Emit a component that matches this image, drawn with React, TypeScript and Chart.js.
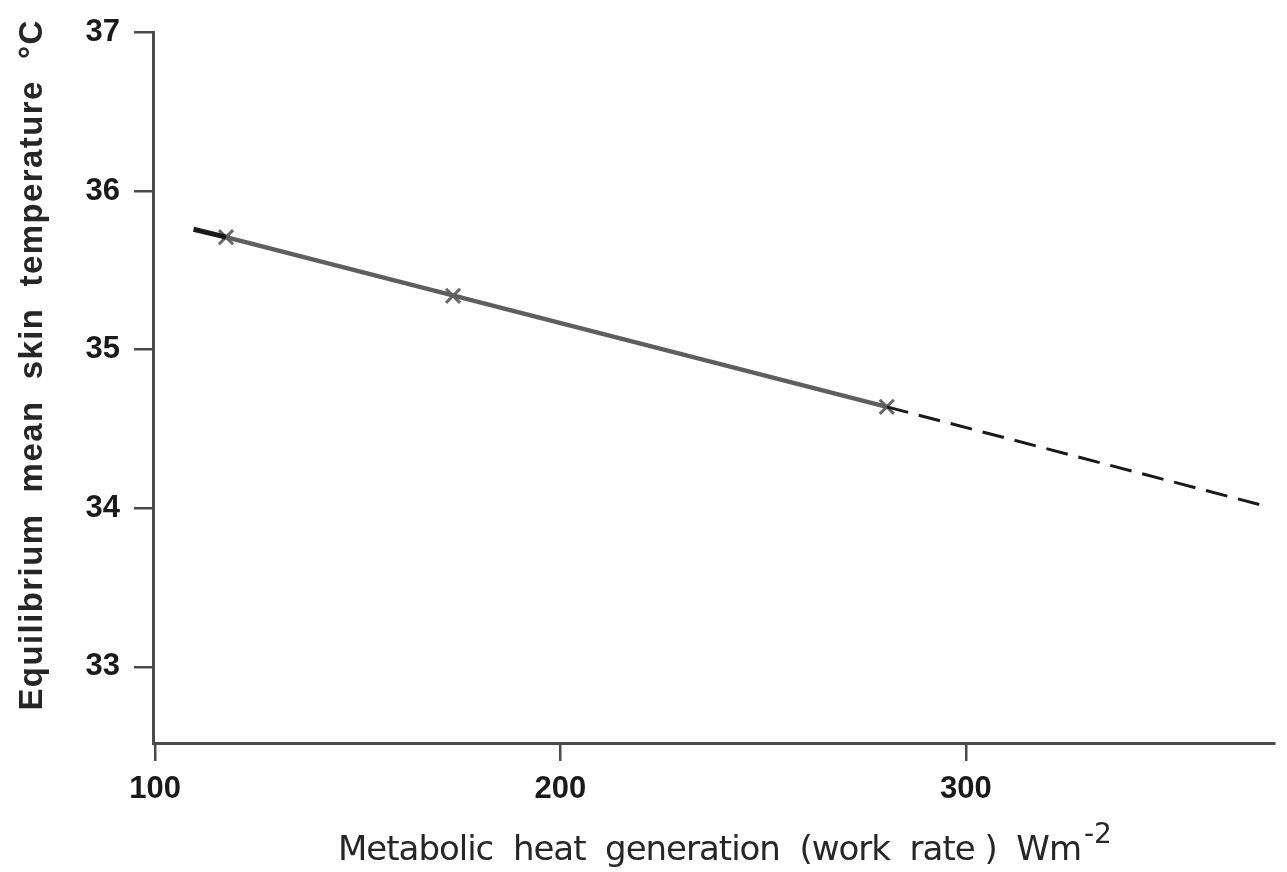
import React, { useEffect, useRef } from "react";
import { Chart, registerables } from "chart.js";

Chart.register(...registerables);

// ---- data ----
const measuredX = [117.5, 173.5, 280.5];
const measuredY = [35.71, 35.34, 34.64];
const stubX = [109.5, 117.5];
const stubY = [35.76, 35.71];
const fitX = [117.5, 280.5];
const fitY = [35.71, 34.64];
const extX = [280.5, 374.5];
const extY = [34.64, 34.01];
const xTicks = [100, 200, 300];
const yTicks = [33, 34, 35, 36, 37];
const xTitle = "Metabolic  heat  generation  (work  rate )  Wm";
const xTitleSup = "-2";
const yTitle = "Equilibrium  mean  skin  temperature  \u00B0C";

const toPts = (xs: number[], ys: number[]) => xs.map((x, i) => ({ x, y: ys[i] }));

const drawFitted = (
  ctx: CanvasRenderingContext2D,
  text: string,
  x: number,
  y: number,
  target: number,
  align: "left" | "center"
) => {
  (ctx as any).letterSpacing = "0px";
  const w = ctx.measureText(text).width;
  const ls = (target - w) / Math.max(text.length - 1, 1);
  (ctx as any).letterSpacing = `${ls}px`;
  ctx.textAlign = "left";
  const startX = align === "center" ? x - target / 2 : x;
  ctx.fillText(text, startX, y);
  (ctx as any).letterSpacing = "0px";
};

const titlePlugin = {
  id: "axisTitles",
  afterDraw(chart: any) {
    const { ctx, chartArea } = chart;
    ctx.save();
    ctx.fillStyle = "#262626";
    ctx.textBaseline = "alphabetic";
    // x axis title
    ctx.font = '34px "DejaVu Sans"';
    const xLeft = chartArea.left + 185;
    const base = chartArea.bottom + 117;
    drawFitted(ctx, xTitle, xLeft, base, 744, "left");
    ctx.font = '28px "DejaVu Sans"';
    ctx.textAlign = "left";
    ctx.fillText(xTitleSup, xLeft + 746, base - 17);
    // y axis title
    ctx.translate(chartArea.left - 111, chartArea.top + 333);
    ctx.rotate(-Math.PI / 2);
    ctx.font = 'bold 33px "Liberation Sans"';
    drawFitted(ctx, yTitle, 0, 0, 690, "center");
    ctx.restore();
  },
};

export default function App() {
  const ref = useRef<HTMLCanvasElement | null>(null);

  useEffect(() => {
    if (!ref.current) return;
    const axisColor = "#4a4a4a";
    const tickFont = { family: '"Liberation Sans"', size: 31, weight: "bold" as const };
    const chart = new Chart(ref.current, {
      type: "scatter",
      data: {
        datasets: [
          {
            label: "stub",
            data: toPts(stubX, stubY),
            showLine: true,
            borderColor: "#1a1a1a",
            borderWidth: 5,
            pointRadius: 0,
          },
          {
            label: "fit",
            data: toPts(fitX, fitY),
            showLine: true,
            borderColor: "#5e5e5e",
            borderWidth: 4.5,
            pointRadius: 0,
          },
          {
            label: "extrapolated",
            data: toPts(extX, extY),
            showLine: true,
            borderColor: "#1a1a1a",
            borderWidth: 3,
            borderDash: [22, 11],
            pointRadius: 0,
          },
          {
            label: "measured",
            data: toPts(measuredX, measuredY),
            showLine: false,
            pointStyle: "crossRot",
            pointRadius: 10,
            pointBorderWidth: 3,
            pointBorderColor: "#666",
            pointBackgroundColor: "#666",
          },
        ],
      },
      options: {
        animation: false,
        responsive: false,
        maintainAspectRatio: false,
        layout: { padding: { top: 25, right: 7, left: 0, bottom: 0 } },
        plugins: {
          legend: { display: false },
          tooltip: { enabled: false },
        },
        scales: {
          x: {
            type: "linear",
            min: 99.5,
            max: 376,
            afterBuildTicks: (s: any) => {
              s.ticks = xTicks.map((v) => ({ value: v }));
            },
            afterFit: (s: any) => {
              s.height = 129;
            },
            border: { display: true, color: axisColor, width: 3 },
            grid: {
              display: true,
              drawOnChartArea: false,
              drawTicks: true,
              tickLength: 18,
              color: axisColor,
              lineWidth: 2.5,
            },
            ticks: {
              color: "#1a1a1a",
              font: tickFont,
              padding: 10,
              maxRotation: 0,
              callback: (v: any) => String(v),
            },
          },
          y: {
            type: "linear",
            min: 32.52,
            max: 37,
            afterBuildTicks: (s: any) => {
              s.ticks = yTicks.map((v) => ({ value: v }));
            },
            afterFit: (s: any) => {
              s.width = 153;
            },
            border: { display: true, color: axisColor, width: 3 },
            grid: {
              display: true,
              drawOnChartArea: false,
              drawTicks: true,
              tickLength: 19,
              color: axisColor,
              lineWidth: 2.5,
            },
            ticks: {
              color: "#1a1a1a",
              font: tickFont,
              padding: 14,
              callback: (v: any) => String(v),
            },
          },
        },
      },
      plugins: [titlePlugin],
    });
    return () => chart.destroy();
  }, []);

  return (
    <div style={{ position: "fixed", left: 0, top: 0, width: 1287, height: 872, background: "#fff" }}>
      <canvas ref={ref} width={1287} height={872} style={{ width: 1287, height: 872, display: "block" }} />
    </div>
  );
}
